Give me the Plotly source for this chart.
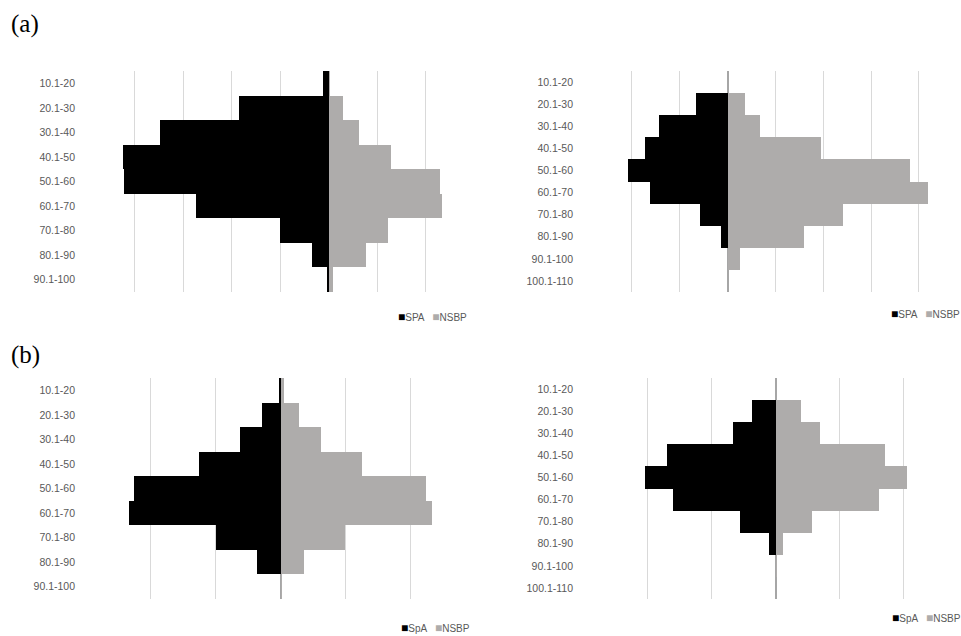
import plotly.graph_objects as go

W, H = 961, 636

cats9 = ["10.1-20", "20.1-30", "30.1-40", "40.1-50", "50.1-60",
         "60.1-70", "70.1-80", "80.1-90", "90.1-100"]
cats10 = cats9 + ["100.1-110"]

# (a) left panel
a1_spa = [0.12, 1.84, 3.48, 4.24, 4.21, 2.74, 1.01, 0.34, 0.03]
a1_nsbp = [0.03, 0.29, 0.63, 1.28, 2.29, 2.35, 1.22, 0.77, 0.10]
# (a) right panel
a2_spa = [0.0, 0.65, 1.43, 1.73, 2.08, 1.62, 0.57, 0.14, 0.0, 0.0]
a2_nsbp = [0.0, 0.37, 0.67, 1.96, 3.82, 4.20, 2.42, 1.60, 0.26, 0.0]
# (b) left panel
b1_spa = [0.03, 0.29, 0.63, 1.26, 2.26, 2.34, 1.00, 0.37, 0.0]
b1_nsbp = [0.05, 0.29, 0.63, 1.26, 2.25, 2.34, 1.00, 0.37, 0.03]
# (b) right panel
b2_spa = [0.0, 0.37, 0.67, 1.70, 2.05, 1.60, 0.56, 0.11, 0.0, 0.0]
b2_nsbp = [0.0, 0.39, 0.69, 1.71, 2.06, 1.61, 0.57, 0.12, 0.02, 0.0]

BLACK = "#000000"
GREY = "#aeacab"
TXT = "#595959"
GRID = "#d9d9d9"

panels = [
    # (cats, spa, nsbp, x-range, x px, y px)
    (cats9, a1_spa, a1_nsbp, [-5, 3], (86, 474), (71, 292)),
    (cats10, a2_spa, a2_nsbp, [-3, 4.88], (584, 961), (71, 292)),
    (cats9, b1_spa, b1_nsbp, [-3, 3], (86, 475), (378, 599)),
    (cats10, b2_spa, b2_nsbp, [-3, 2.9], (584, 961), (378, 599)),
]

fig = go.Figure()
layout = {}
for i, (cats, spa, nsbp, xr, (x0, x1), (y0, y1)) in enumerate(panels):
    n = "" if i == 0 else str(i + 1)
    xa, ya = "x" + n, "y" + n
    fig.add_trace(go.Bar(y=cats, x=[-v for v in spa], orientation="h",
                         marker=dict(color=BLACK, line=dict(width=0)),
                         xaxis=xa, yaxis=ya, showlegend=False, name="SPA"))
    fig.add_trace(go.Bar(y=cats, x=nsbp, orientation="h",
                         marker=dict(color=GREY, line=dict(width=0)),
                         xaxis=xa, yaxis=ya, showlegend=False, name="NSBP"))
    layout["xaxis" + n] = dict(
        domain=[x0 / W, x1 / W], range=xr, anchor=ya, dtick=1,
        showticklabels=False, showgrid=True, gridcolor=GRID, gridwidth=1,
        zeroline=True, zerolinecolor="#a6a6a6", zerolinewidth=2,
        showline=False, ticks="", fixedrange=True)
    layout["yaxis" + n] = dict(
        domain=[1 - y1 / H, 1 - y0 / H], anchor=xa, type="category",
        categoryorder="array", categoryarray=cats, autorange="reversed",
        showgrid=False, zeroline=False, showline=False, ticks="",
        ticklabelstandoff=10, fixedrange=True,
        tickfont=dict(family="Liberation Sans", size=10.5, color=TXT))

fig.update_layout(**layout)

def legend_text(a, b):
    return (f"<span style='color:{BLACK};font-size:12px'>■</span>{a}   "
            f"<span style='color:{GREY};font-size:12px'>■</span>{b}")

annots = [
    dict(x=396 / W, y=1 - 317 / H, text=legend_text("SPA", "NSBP")),
    dict(x=889 / W, y=1 - 314 / H, text=legend_text("SPA", "NSBP")),
    dict(x=399 / W, y=1 - 628 / H, text=legend_text("SpA", "NSBP")),
    dict(x=890 / W, y=1 - 618 / H, text=legend_text("SpA", "NSBP")),
]
for a in annots:
    a.update(xref="paper", yref="paper", xanchor="left", yanchor="middle",
             showarrow=False,
             font=dict(family="Liberation Sans", size=10, color=TXT))
panel_labels = [
    dict(x=9 / W, y=1 - 24 / H, text="(a)"),
    dict(x=9 / W, y=1 - 355 / H, text="(b)"),
]
for a in panel_labels:
    a.update(xref="paper", yref="paper", xanchor="left", yanchor="middle",
             showarrow=False,
             font=dict(family="Liberation Serif", size=25, color="#000000"))

fig.update_layout(
    width=W, height=H,
    margin=dict(l=0, r=0, t=0, b=0),
    paper_bgcolor="white", plot_bgcolor="white",
    barmode="relative", bargap=0,
    annotations=annots + panel_labels,
    showlegend=False,
)

fig.write_html("out.html",
               config={"displayModeBar": False, "staticPlot": True},
               post_script="document.body.style.margin='0px';"
                           "document.body.style.overflow='hidden';")
